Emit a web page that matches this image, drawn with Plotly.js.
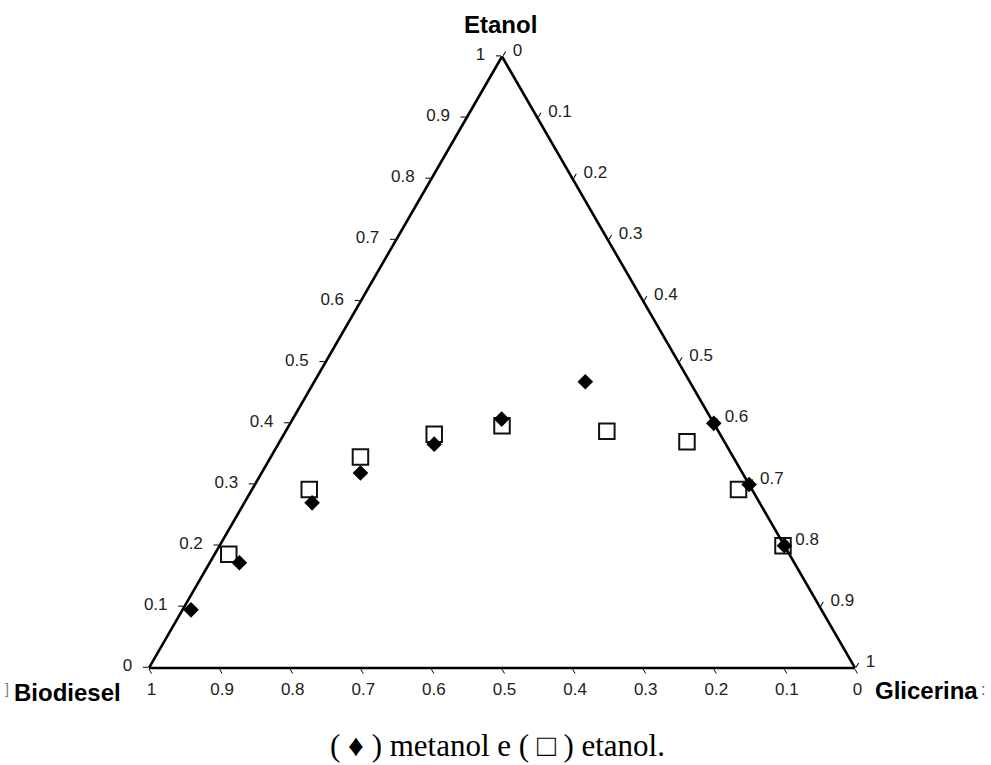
<!DOCTYPE html>
<html>
<head>
<meta charset="utf-8">
<script src="https://cdn.plot.ly/plotly-3.0.1.min.js"></script>
<style>
  html, body { margin: 0; padding: 0; background: #fff; }
  #chart { width: 991px; height: 765px; }
</style>
</head>
<body>
<div id="chart"></div>
<script>
// Ternary diagram: Biodiesel / Etanol / Glicerina mass fractions
// a = Etanol (top), b = Biodiesel (bottom left), c = Glicerina (bottom right)

// metanol series (filled diamonds)
const metanolEtanol    = [0.095, 0.172, 0.270, 0.319, 0.366, 0.407, 0.468, 0.400, 0.300, 0.200];
const metanolBiodiesel = [0.893, 0.786, 0.634, 0.541, 0.413, 0.297, 0.148, 0.000, 0.000, 0.000];
const metanolGlicerina = [0.012, 0.042, 0.096, 0.140, 0.221, 0.296, 0.384, 0.600, 0.700, 0.800];

// etanol series (open squares)
const etanolEtanol    = [0.186, 0.292, 0.345, 0.382, 0.396, 0.387, 0.370, 0.292, 0.200];
const etanolBiodiesel = [0.794, 0.627, 0.528, 0.405, 0.302, 0.158, 0.053, 0.019, 0.002];
const etanolGlicerina = [0.020, 0.081, 0.127, 0.213, 0.302, 0.455, 0.577, 0.689, 0.798];

const axisTitles = { a: 'Etanol', b: 'Biodiesel', c: 'Glicerina' };
const caption = '( \u2666 ) metanol e ( \u25A1 ) etanol.';

const tickFont = { family: 'Liberation Sans, Arial, sans-serif', size: 17, color: '#222' };
const titleFont = { family: 'Liberation Sans, Arial, sans-serif', size: 24, color: '#000' };

function axisStyle(extra) {
  return Object.assign({
    min: 0,
    showgrid: false,
    showline: true,
    linecolor: '#000',
    linewidth: 2.6,
    ticks: 'outside',
    ticklen: 5,
    tickwidth: 1,
    tickcolor: '#000',
    tick0: 0,
    dtick: 0.1,
    tickfont: tickFont,
    title: { text: '' }
  }, extra || {});
}

const traces = [
  {
    type: 'scatterternary',
    mode: 'markers',
    name: 'etanol',
    a: etanolEtanol,
    b: etanolBiodiesel,
    c: etanolGlicerina,
    cliponaxis: false,
    marker: { symbol: 'square-open', size: 15.5, color: '#111', line: { width: 2, color: '#111' } },
    hoverinfo: 'skip'
  },
  {
    type: 'scatterternary',
    mode: 'markers',
    name: 'metanol',
    a: metanolEtanol,
    b: metanolBiodiesel,
    c: metanolGlicerina,
    cliponaxis: false,
    marker: { symbol: 'diamond', size: 12, color: '#000', line: { width: 0 } },
    hoverinfo: 'skip'
  }
];

const layout = {
  width: 991,
  height: 765,
  margin: { l: 0, r: 0, t: 0, b: 0 },
  paper_bgcolor: '#fff',
  showlegend: false,
  hovermode: false,
  ternary: {
    sum: 1,
    bgcolor: '#fff',
    domain: { x: [149 / 991, 855 / 991], y: [0.1268, 0.9262] },
    // small gap between the side labels and the triangle edges
    aaxis: axisStyle({ ticksuffix: '\u00a0\u2009' }),
    baxis: axisStyle(),
    caxis: axisStyle({ tickprefix: '\u00a0' })
  },
  annotations: [
    { text: '<b>' + axisTitles.a + '</b>', x: 500, y: 25, font: titleFont },
    { text: '<b>' + axisTitles.b + '</b>', x: 67, y: 692, font: titleFont },
    { text: '<b>' + axisTitles.c + '</b>', x: 926, y: 690, font: titleFont },
    { text: ']', x: 7, y: 689, font: { family: 'Liberation Sans, Arial, sans-serif', size: 14, color: '#777' } },
    { text: ':', x: 983, y: 689, font: { family: 'Liberation Sans, Arial, sans-serif', size: 16, color: '#555' } },
    { text: caption, x: 497, y: 745, font: { family: 'Liberation Serif, Times New Roman, serif', size: 31, color: '#000' } }
  ].map(function (ann) {
    return Object.assign({
      xref: 'paper', yref: 'paper', showarrow: false,
      xanchor: 'center', yanchor: 'middle'
    }, ann, { x: ann.x / 991, y: 1 - ann.y / 765 });
  })
};

Plotly.newPlot('chart', traces, layout, { displayModeBar: false, staticPlot: true });
</script>
</body>
</html>
